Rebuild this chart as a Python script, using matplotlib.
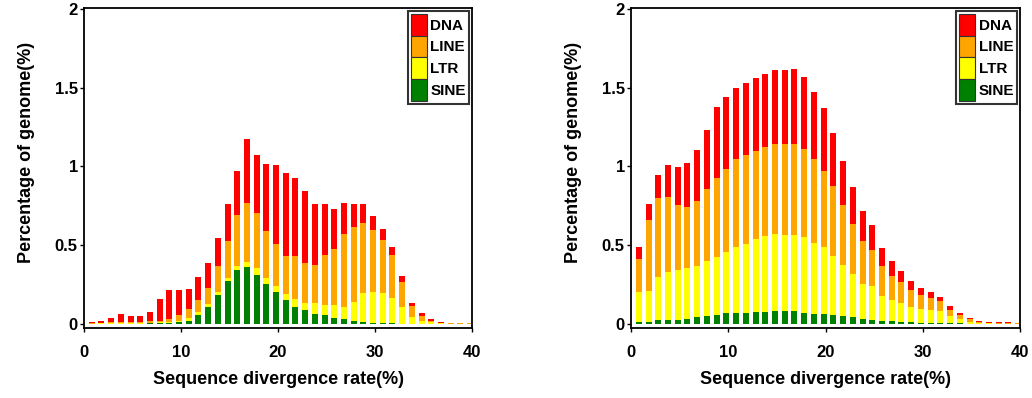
import numpy as np
import matplotlib
matplotlib.use('Agg')
import matplotlib.pyplot as plt
from matplotlib.patches import Patch

plt.rcParams['font.family'] = ['Liberation Sans', 'DejaVu Sans']
plt.rcParams['font.weight'] = 'bold'

bins = np.arange(1, 41)
classes = ['DNA', 'LINE', 'LTR', 'SINE']
colors = {'DNA': '#ff0000', 'LINE': '#ffa500', 'LTR': '#ffff00', 'SINE': '#008000'}

# left genome, percentage of genome per divergence bin
left_sine = [.001, .002, .002, .002, .003, .003, .004, .006, .008, .011,
             .022, .06, .11, .184, .274, .342, .364, .311, .256, .205,
             .152, .11, .09, .066, .055, .041, .03, .021, .015, .008,
             .004, .004, .002, .002, .001, .001, .001, .001, .001, .001]
left_ltr = [.002, .002, .003, .004, .004, .005, .005, .005, .006, .009,
            .013, .015, .02, .016, .021, .027, .028, .044, .034, .035,
            .038, .047, .045, .065, .065, .079, .08, .117, .183, .197,
            .19, .158, .108, .043, .02, .01, .003, .002, .002, .002]
left_line = [.003, .004, .005, .006, .006, .007, .009, .009, .016, .035,
             .06, .075, .10, .165, .229, .325, .378, .35, .30, .265,
             .24, .273, .249, .242, .315, .356, .464, .478, .443, .39,
             .338, .274, .156, .069, .032, .01, .004, .003, .003, .003]
left_dna = [.008, .012, .03, .049, .037, .035, .056, .136, .185, .16,
            .129, .147, .16, .181, .24, .276, .405, .365, .427, .505,
            .53, .494, .46, .391, .325, .253, .196, .148, .119, .091,
            .069, .055, .037, .021, .015, .011, .005, .003, .003, .003]

# right genome
right_sine = [.011, .015, .023, .028, .028, .034, .042, .051, .057, .07,
              .07, .07, .076, .076, .08, .08, .08, .07, .066, .066,
              .055, .049, .044, .034, .028, .021, .017, .013, .011, .008,
              .007, .006, .005, .004, .003, .002, .001, .001, .001, .001]
right_ltr = [.19, .192, .275, .30, .313, .324, .328, .349, .366, .387,
             .417, .44, .464, .485, .494, .487, .487, .48, .448, .423,
             .379, .323, .276, .222, .215, .155, .133, .12, .095, .085,
             .08, .077, .044, .028, .012, .006, .003, .002, .002, .002]
right_line = [.212, .451, .502, .478, .412, .387, .409, .455, .504, .529,
              .561, .565, .56, .561, .565, .578, .578, .561, .534, .482,
              .44, .384, .315, .273, .229, .19, .157, .134, .112, .093,
              .08, .061, .042, .025, .015, .005, .004, .003, .003, .003]
right_dna = [.076, .102, .146, .204, .244, .275, .324, .377, .451, .455,
             .448, .451, .458, .461, .471, .465, .47, .457, .423, .40,
             .339, .281, .237, .186, .154, .117, .091, .07, .055, .045,
             .036, .025, .021, .013, .008, .006, .005, .004, .004, .003]

fig = plt.figure(figsize=(10.32, 3.98), dpi=100)
ax1 = fig.add_axes([0.0814, 0.176, 0.376, 0.804])
ax2 = fig.add_axes([0.6115, 0.176, 0.377, 0.804])

panels = [
    (ax1, {'SINE': left_sine, 'LTR': left_ltr, 'LINE': left_line, 'DNA': left_dna}),
    (ax2, {'SINE': right_sine, 'LTR': right_ltr, 'LINE': right_line, 'DNA': right_dna}),
]

for ax, data in panels:
    bottom = np.zeros(len(bins))
    for name in ['SINE', 'LTR', 'LINE', 'DNA']:
        vals = np.array(data[name])
        ax.bar(bins - 0.2, vals, width=0.62, bottom=bottom, color=colors[name], linewidth=0)
        bottom += vals

    ax.set_xlim(0, 40)
    ax.set_ylim(-0.025, 2.005)
    ax.set_xticks([0, 10, 20, 30, 40])
    ax.set_yticks([0, 0.5, 1, 1.5, 2])
    ax.set_yticklabels(['0', '0.5', '1', '1.5', '2'])
    ax.tick_params(direction='out', length=3, width=1, labelsize=12)
    ax.tick_params(axis='x', pad=9)
    ax.tick_params(axis='y', pad=1.5)
    for sp in ax.spines.values():
        sp.set_linewidth(1.3)
    ax.set_xlabel('Sequence divergence rate(%)', fontsize=13, fontweight='bold', labelpad=8)
    ax.set_ylabel('Percentage of genome(%)', fontsize=13, fontweight='bold')
    ax.yaxis.set_label_coords(-0.126, 0.547)

    handles = [Patch(facecolor=colors[c], edgecolor='#333333', linewidth=0.8, label=c) for c in classes]
    leg = ax.legend(handles=handles, loc='upper right', fontsize=11, frameon=True, fancybox=False,
                    handlelength=1.05, handleheight=1.8, labelspacing=0.0, handletextpad=0.2,
                    borderpad=0.2, borderaxespad=0.2)
    leg.get_frame().set_edgecolor('black')
    leg.get_frame().set_linewidth(1.5)

fig.savefig('out.png', dpi=100)
